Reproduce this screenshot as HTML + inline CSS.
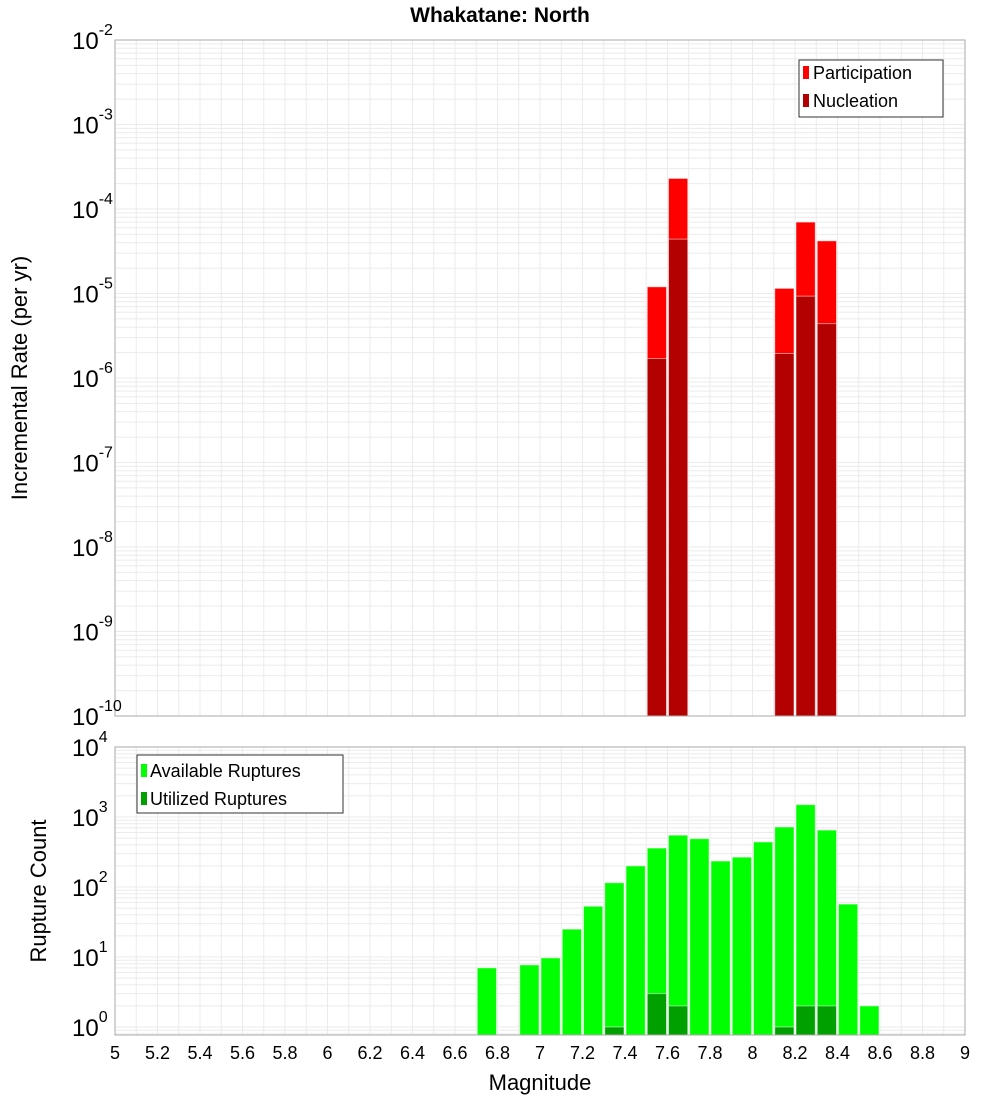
<!DOCTYPE html>
<html><head><meta charset="utf-8"><style>
html,body{margin:0;padding:0;background:#fff;}
svg{display:block;font-family:"Liberation Sans","DejaVu Sans",sans-serif;}
</style></head><body>
<svg id="chart" width="1000" height="1100" xmlns="http://www.w3.org/2000/svg">
<text x="500" y="22" text-anchor="middle" font-size="21" font-weight="bold">Whakatane: North</text>
<g id="grid"></g>
<g id="bars"></g>
<g id="axes"></g>
<text transform="translate(27,378) rotate(-90)" text-anchor="middle" font-size="22">Incremental Rate (per yr)</text>
<text transform="translate(46,891) rotate(-90)" text-anchor="middle" font-size="22">Rupture Count</text>
<text x="540" y="1090" text-anchor="middle" font-size="22">Magnitude</text>
<g>
<rect x="799" y="60" width="144" height="57" fill="#fff" stroke="#333"/>
<rect x="803" y="66" width="6" height="13" fill="#ff0000"/>
<text x="813" y="79" font-size="18">Participation</text>
<rect x="803" y="94" width="6" height="13" fill="#b30000"/>
<text x="813" y="107" font-size="18">Nucleation</text>
</g>
<g>
<rect x="137" y="755" width="206" height="58" fill="#fff" stroke="#333"/>
<rect x="141" y="764" width="6" height="13" fill="#00ff00"/>
<text x="150" y="777" font-size="18">Available Ruptures</text>
<rect x="141" y="792" width="6" height="13" fill="#00a000"/>
<text x="150" y="805" font-size="18">Utilized Ruptures</text>
</g>
</svg>
<script>
const mags = [7.55, 7.65, 8.15, 8.25, 8.35];
const participation = [1.2e-5, 2.3e-4, 1.15e-5, 7.0e-5, 4.2e-5];
const nucleation = [1.7e-6, 4.4e-5, 1.95e-6, 9.3e-6, 4.4e-6];
const countMags = [6.75, 6.95, 7.05, 7.15, 7.25, 7.35, 7.45, 7.55, 7.65, 7.75, 7.85, 7.95, 8.05, 8.15, 8.25, 8.35, 8.45, 8.55];
const available = [7, 7.7, 9.7, 25, 53, 115, 200, 360, 550, 490, 235, 267, 440, 720, 1500, 650, 57, 2];
const utilizedMags = [7.35, 7.55, 7.65, 8.15, 8.25, 8.35];
const utilized = [1, 3, 2, 1, 2, 2];
const xTicks = [5, 5.2, 5.4, 5.6, 5.8, 6, 6.2, 6.4, 6.6, 6.8, 7, 7.2, 7.4, 7.6, 7.8, 8, 8.2, 8.4, 8.6, 8.8, 9];
const topExps = [-10, -9, -8, -7, -6, -5, -4, -3, -2];
const botExps = [0, 1, 2, 3, 4];

const NS = "http://www.w3.org/2000/svg";
const L = 115, R = 965, T1 = 40, B1 = 716, T2 = 747, B2 = 1035;
const x = m => L + (m - 5) * (R - L) / 4;
const yTop = v => B1 - (Math.log10(v) + 10) * (B1 - T1) / 8;
const yBot = v => T2 + (4 - Math.log10(v)) * 70;
function mk(tag, attrs, parent) {
  const e = document.createElementNS(NS, tag);
  for (const k in attrs) e.setAttribute(k, attrs[k]);
  parent.appendChild(e);
  return e;
}
const grid = document.getElementById('grid'), bars = document.getElementById('bars'), axes = document.getElementById('axes');
// grids
for (let m = 5; m <= 9.001; m += 0.1) {
  const l = mk('line', {x1: x(m), x2: x(m), y1: T1, y2: B1, stroke: '#ebebeb'}, grid);
  
  
  const l2 = mk('line', {x1: x(m), x2: x(m), y1: T2, y2: B2, stroke: '#ebebeb'}, grid);
  
  
}
for (let e = -10; e < -2; e++) for (let k = 1; k < 10; k++) {
  const y = yTop(k * Math.pow(10, e));
  const l = mk('line', {x1: L, x2: R, y1: y, y2: y, stroke: '#ebebeb'}, grid);
  
  
}
for (let e = -1; e < 4; e++) for (let k = 1; k < 10; k++) {
  const y = yBot(k * Math.pow(10, e));
  if (y > B2 || y < T2) continue;
  const l = mk('line', {x1: L, x2: R, y1: y, y2: y, stroke: '#ebebeb'}, grid);
  
  
}
const bw = (R - L) / 40;
function bar(m, yv, base, fill, name) {
  const r = mk('rect', {x: x(m) - bw / 2 + 1, y: yv, width: bw - 2, height: base - yv, fill: fill, stroke: '#fff', 'stroke-opacity': 0.5}, bars);
  
  
}
mags.forEach((m, i) => bar(m, yTop(participation[i]), B1, '#ff0000', 'participation-bar'));
mags.forEach((m, i) => bar(m, yTop(nucleation[i]), B1, '#b30000', 'nucleation-bar'));
countMags.forEach((m, i) => bar(m, yBot(available[i]), B2, '#00ff00', 'available-bar'));
utilizedMags.forEach((m, i) => bar(m, yBot(utilized[i]), B2, '#00a000', 'utilized-bar'));
// frames
const f1 = mk('rect', {x: L, y: T1, width: R - L, height: B1 - T1, fill: 'none', stroke: '#aaa'}, axes);


const f2 = mk('rect', {x: L, y: T2, width: R - L, height: B2 - T2, fill: 'none', stroke: '#aaa'}, axes);


xTicks.forEach(m => {
  const t = mk('text', {x: x(m), y: 1059, 'text-anchor': 'middle', 'font-size': 18}, axes);
  t.textContent = String(m);
  
  
});
function ylab(y, e, name) {
  const t = mk('text', {x: 72, y: y + 9, 'font-size': 24}, axes);
  
  
  t.appendChild(document.createTextNode('10'));
  const s = mk('tspan', {dy: -14, 'font-size': 16}, t);
  s.textContent = String(e);
}
topExps.forEach(e => ylab(yTop(Math.pow(10, e)), e, 'y-tick-label-top'));
botExps.forEach(e => ylab(yBot(Math.pow(10, e)), e, 'y-tick-label-bottom'));
</script>
</body></html>
